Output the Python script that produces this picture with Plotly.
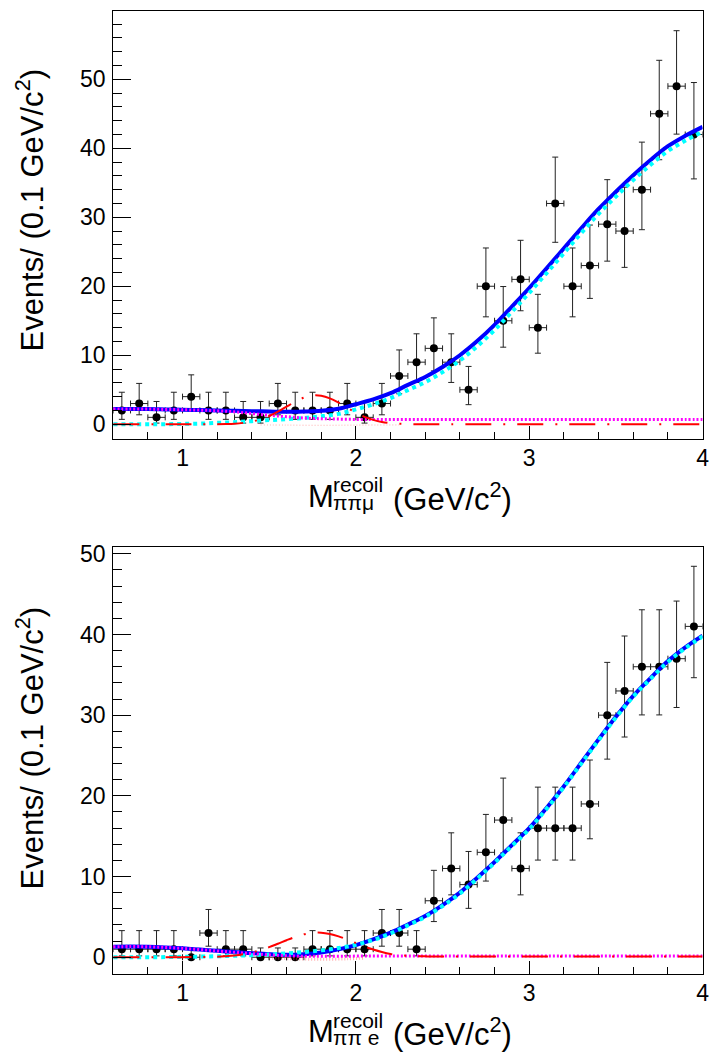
import plotly.graph_objects as go

# bin centres (0.1 GeV/c^2 bins from 0.6 to 4.0)
bin_centers = [0.65, 0.75, 0.85, 0.95, 1.05, 1.15, 1.25, 1.35, 1.45, 1.55,
               1.65, 1.75, 1.85, 1.95, 2.05, 2.15, 2.25, 2.35, 2.45, 2.55,
               2.65, 2.75, 2.85, 2.95, 3.05, 3.15, 3.25, 3.35, 3.45, 3.55,
               3.65, 3.75, 3.85, 3.95]
bin_half_width = 0.05

# top panel: pi pi mu
mu_counts = [2, 3, 1, 2, 4, 2, 2, 1, 1, 3, 2, 2, 2, 3, 1, 3, 7, 9, 11, 9,
             5, 20, 15, 21, 14, 32, 20, 23, 29, 28, 34, 45, 49, 42]
mu_err_lo = [1.29, 1.63, 0.83, 1.29, 1.91, 1.29, 1.29, 0.83, 0.83, 1.63,
             1.29, 1.29, 1.29, 1.63, 0.83, 1.63, 2.58, 2.94, 3.27, 2.94,
             2.16, 4.43, 3.83, 4.55, 3.70, 5.63, 4.43, 4.76, 5.36, 5.26,
             5.80, 6.66, 6.95, 6.44]
mu_err_hi = [2.64, 2.92, 2.30, 2.64, 3.16, 2.64, 2.64, 2.30, 2.30, 2.92,
             2.64, 2.64, 2.64, 2.92, 2.30, 2.92, 3.77, 4.11, 4.42, 4.11,
             3.38, 5.55, 4.96, 5.66, 4.83, 6.72, 5.55, 5.87, 6.45, 6.36,
             6.89, 7.75, 8.04, 7.53]

# bottom panel: pi pi e
e_counts = [1, 1, 1, 1, 0, 3, 1, 1, 0, 0, 0, 1, 1, 1, 1, 3, 3, 1, 7, 11,
            9, 13, 17, 11, 16, 16, 16, 19, 30, 33, 36, 36, 37, 41]
e_err_lo = [0.83, 0.83, 0.83, 0.83, 0.00, 1.63, 0.83, 0.83, 0.00, 0.00,
            0.00, 0.83, 0.83, 0.83, 0.83, 1.63, 1.63, 0.83, 2.58, 3.27,
            2.94, 3.56, 4.08, 3.27, 3.96, 3.96, 3.96, 4.32, 5.45, 5.71,
            5.97, 5.97, 6.05, 6.36]
e_err_hi = [2.30, 2.30, 2.30, 2.30, 1.15, 2.92, 2.30, 2.30, 1.15, 1.15,
            1.15, 2.30, 2.30, 2.30, 2.30, 2.92, 2.92, 2.30, 3.77, 4.42,
            4.11, 4.70, 5.20, 4.42, 5.08, 5.08, 5.08, 5.44, 6.54, 6.81,
            7.06, 7.06, 7.14, 7.45]

# fit curves sampled every 0.1
curve_x = [0.6, 0.7, 0.8, 0.9, 1.0, 1.1, 1.2, 1.3, 1.4, 1.5, 1.6, 1.7,
           1.8, 1.9, 2.0, 2.1, 2.2, 2.3, 2.4, 2.5, 2.6, 2.7, 2.8, 2.9,
           3.0, 3.1, 3.2, 3.3, 3.4, 3.5, 3.6, 3.7, 3.8, 3.9, 4.0]

mu_total = [2.2, 2.2, 2.2, 2.15, 2.1, 2.05, 2.0, 1.95, 1.9, 1.85, 1.8, 1.85,
            1.95, 2.25, 2.9, 3.6, 4.5, 5.7, 6.85, 8.3, 10.0, 12.05, 14.4,
            17.05, 19.75, 22.6, 25.5, 28.4, 31.2, 33.7, 36.1, 38.3, 40.3,
            41.8, 43.1]
mu_signal = [0.0, 0.0, 0.0, 0.0, 0.05, 0.1, 0.2, 0.3, 0.45, 0.6, 0.75, 0.9,
             1.15, 1.5, 2.15, 2.9, 3.8, 4.95, 6.1, 7.55, 9.25, 11.3, 13.65,
             16.3, 19.05, 21.9, 24.8, 27.7, 30.5, 33.0, 35.4, 37.6, 39.6,
             41.1, 42.4]
mu_bkg = [2.2, 2.2, 2.2, 2.15, 2.1, 2.05, 1.95, 1.8, 1.55, 1.3, 1.1, 0.9,
          0.8, 0.75, 0.7, 0.7, 0.7, 0.7, 0.7, 0.7, 0.7, 0.7, 0.7, 0.7,
          0.7, 0.7, 0.7, 0.7, 0.7, 0.7, 0.7, 0.7, 0.7, 0.7, 0.7]

e_total = [1.3, 1.32, 1.3, 1.22, 1.1, 0.95, 0.8, 0.65, 0.5, 0.37, 0.3, 0.38,
           0.6, 0.98, 1.5, 2.2, 3.05, 4.05, 5.1, 6.45, 8.0, 9.85, 11.8,
           13.9, 16.0, 18.5, 21.2, 24.1, 27.0, 29.8, 32.4, 34.6, 36.7,
           38.4, 39.85]
e_signal = [0.0, 0.0, 0.0, 0.02, 0.05, 0.08, 0.12, 0.18, 0.25, 0.35, 0.48,
            0.65, 0.85, 1.15, 1.55, 2.15, 2.95, 3.95, 5.0, 6.35, 7.9, 9.75,
            11.7, 13.8, 15.9, 18.4, 21.1, 24.0, 26.9, 29.7, 32.3, 34.5,
            36.6, 38.3, 39.75]
e_bkg = [1.3, 1.32, 1.3, 1.22, 1.1, 0.95, 0.78, 0.62, 0.45, 0.3, 0.18, 0.12,
         0.12, 0.13, 0.14, 0.15, 0.15, 0.15, 0.15, 0.15, 0.15, 0.15, 0.15,
         0.15, 0.15, 0.15, 0.15, 0.15, 0.15, 0.15, 0.15, 0.15, 0.15, 0.15,
         0.15]

# peaking component, finer sampling around the bump
peak_x = [0.6, 1.0, 1.2, 1.25, 1.3, 1.35, 1.4, 1.45, 1.5, 1.55, 1.6, 1.65,
          1.7, 1.75, 1.8, 1.85, 1.9, 1.95, 2.0, 2.05, 2.1, 2.15, 2.2, 2.25,
          2.3, 2.35, 2.4, 2.45, 2.6, 4.0]
mu_peak = [0.0, 0.0, 0.015, 0.04, 0.09, 0.2, 0.39, 0.71, 1.19, 1.82, 2.55,
           3.27, 3.86, 4.17, 4.13, 3.76, 3.14, 2.4, 1.68, 1.08, 0.64, 0.34,
           0.17, 0.08, 0.03, 0.01, 0.0, 0.0, 0.0, 0.0]
e_peak = [0.0, 0.01, 0.07, 0.13, 0.22, 0.37, 0.59, 0.89, 1.25, 1.67, 2.11,
          2.52, 2.84, 3.02, 3.04, 2.88, 2.59, 2.2, 1.76, 1.33, 0.96, 0.65,
          0.41, 0.27, 0.18, 0.13, 0.11, 0.1, 0.1, 0.1]

# faint extra component near zero
faint_x = [1.45, 1.6, 1.8, 2.0, 2.25]
mu_faint = [-0.1, -0.12, -0.15, -0.12, -0.1]
e_faint_x = [1.5, 1.65, 1.8, 1.95, 2.05]
e_faint = [-0.1, -0.2, -0.25, -0.2, -0.1]

W, H = 718, 1059


def px(x):
    return x / W


def py(y):
    return 1 - y / H


fig = go.Figure()


def add_panel(xa, ya, counts, lo, hi, total, signal, bkg, peak, fx, fy, faint_w):
    fig.add_trace(go.Scatter(
        x=bin_centers, y=counts, mode="markers", xaxis=xa, yaxis=ya,
        marker=dict(color="black", size=8),
        error_y=dict(type="data", symmetric=False, array=hi, arrayminus=lo,
                     color="#222", thickness=1, width=3),
        error_x=dict(type="constant", value=bin_half_width,
                     color="#222", thickness=1, width=3),
        showlegend=False))
    fig.add_trace(go.Scatter(x=curve_x, y=total, mode="lines", xaxis=xa, yaxis=ya,
                             line=dict(color="#0000ff", width=4, shape="spline"),
                             showlegend=False))
    fig.add_trace(go.Scatter(x=curve_x, y=signal, mode="lines", xaxis=xa, yaxis=ya,
                             line=dict(color="#00ffff", width=4, dash="dot", shape="spline"),
                             showlegend=False))
    fig.add_trace(go.Scatter(x=curve_x, y=bkg, mode="lines", xaxis=xa, yaxis=ya,
                             line=dict(color="#ff00ff", width=3, dash="2px,2px", shape="spline"),
                             showlegend=False))
    fig.add_trace(go.Scatter(x=peak_x, y=peak, mode="lines", xaxis=xa, yaxis=ya,
                             line=dict(color="#ff0000", width=2, dash="26px,12px,2px,12px",
                                       shape="spline"),
                             showlegend=False))
    fig.add_trace(go.Scatter(x=fx, y=fy, mode="lines", xaxis=xa, yaxis=ya,
                             line=dict(color="rgba(255,80,80,0.45)", width=faint_w,
                                       dash="1px,2px", shape="spline"),
                             showlegend=False))


add_panel("x", "y", mu_counts, mu_err_lo, mu_err_hi, mu_total, mu_signal,
          mu_bkg, mu_peak, faint_x, mu_faint, 1)
add_panel("x2", "y2", e_counts, e_err_lo, e_err_hi, e_total, e_signal,
          e_bkg, e_peak, e_faint_x, e_faint, 3)

tick_font = dict(family="Liberation Sans, Arial, sans-serif", size=23, color="black")
xdom = [px(114.3), px(709.5)]

xcommon = dict(range=[0.6, 4.0], tick0=0, dtick=1, ticks="inside", ticklen=13,
               tickwidth=1, tickcolor="black", showline=True, linecolor="black",
               linewidth=1, mirror=True, showgrid=False, zeroline=False,
               tickfont=tick_font, ticklabelstandoff=-1,
               minor=dict(ticks="inside", ticklen=7, dtick=0.2, tick0=0,
                          tickcolor="black", showgrid=False))
ycommon = dict(tick0=0, dtick=10, ticks="inside", ticklen=18, tickwidth=1,
               tickcolor="black", showline=True, linecolor="black", linewidth=1,
               mirror=True, showgrid=False, zeroline=False, tickfont=tick_font,
               ticklabelstandoff=2,
               minor=dict(ticks="inside", ticklen=9, dtick=2, tick0=0,
                          tickcolor="black", showgrid=False))

fig.update_layout(
    width=W, height=H, autosize=False,
    margin=dict(l=0, r=0, t=0, b=0),
    paper_bgcolor="white", plot_bgcolor="white",
    xaxis=dict(domain=xdom, anchor="y", **xcommon),
    yaxis=dict(domain=[py(435), py(5)], range=[-2.07, 59.9], anchor="x", **ycommon),
    xaxis2=dict(domain=xdom, anchor="y2", **xcommon),
    yaxis2=dict(domain=[py(973.3), py(544)], range=[-2.05, 50.85], anchor="x2", **ycommon),
)

title_font = dict(family="Liberation Sans, Arial, sans-serif", size=31, color="black")
small_font = dict(family="Liberation Sans, Arial, sans-serif", size=21, color="black")


def xtitle(dy, sub):
    fig.add_annotation(x=px(309), y=py(493.5 + dy), xref="paper", yref="paper",
                       text="M", showarrow=False, xanchor="left", yanchor="middle",
                       font=title_font)
    fig.add_annotation(x=px(334), y=py(481.5 + dy), xref="paper", yref="paper",
                       text="recoil", showarrow=False, xanchor="left", yanchor="middle",
                       font=small_font)
    fig.add_annotation(x=px(334), y=py(499.5 + dy), xref="paper", yref="paper",
                       text=sub, showarrow=False, xanchor="left", yanchor="middle",
                       font=small_font)
    fig.add_annotation(x=px(395), y=py(493.5 + dy), xref="paper", yref="paper",
                       text="(GeV/c<sup>2</sup>)", showarrow=False, xanchor="left",
                       yanchor="middle", font=title_font)


xtitle(0, "ππμ")
xtitle(538.3, "ππ e")

for yc in (205, 746):
    fig.add_annotation(x=px(30), y=py(yc), xref="paper", yref="paper",
                       text="Events/ (0.1 GeV/c<sup>2</sup>)", textangle=-90,
                       showarrow=False, xanchor="center", yanchor="middle",
                       font=title_font)

fig.write_html("out.html", config={"displayModeBar": False},
               post_script="document.body.style.margin='0px';"
                           "document.body.style.overflow='hidden';")
